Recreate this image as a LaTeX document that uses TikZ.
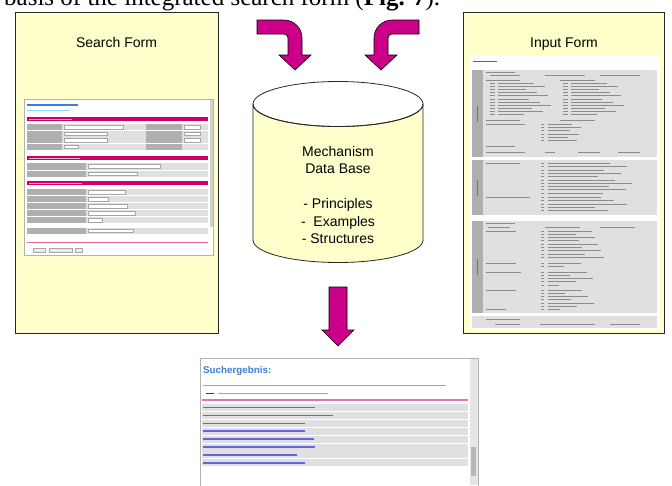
\documentclass[tikz,border=0pt]{standalone}
\usepackage{fontspec}
\setmainfont{Liberation Sans}
\newfontfamily\headfont{Liberation Serif}
\usetikzlibrary{arrows.meta, positioning, shapes}

\definecolor{formyellow}{HTML}{FFFFCC}
\definecolor{arrowpink}{HTML}{CC0088}
\definecolor{barpink}{HTML}{CC0066}
\definecolor{rowgray}{HTML}{E0E0E0}
\definecolor{labelgray}{HTML}{AFAFAF}
\definecolor{linkblue}{HTML}{3B7FD6}
\definecolor{listblue}{HTML}{6464E6}

\tikzset{
  formbox/.style={draw=black!85, line width=0.8pt, fill=formyellow},
  shot/.style={draw=black!30, line width=0.5pt, fill=white},
  blockarrow/.style={draw=black, line width=0.6pt, fill=arrowpink},
  textline/.style={black!45, line width=0.9pt},
  field/.style={draw=black!35, line width=0.3pt, fill=white},
}

\begin{document}
\begin{tikzpicture}[x=1pt, y=-1pt]
\useasboundingbox (0,0) rectangle (672,485);

% Header line of the page (cut at the top)
\node[anchor=base west, inner sep=0, font=\headfont\fontsize{25}{30}\selectfont] (head) at (4,5) {basis of the integrated search form (\textbf{Fig. 7}).};

% Search form
\draw[formbox] (15,12) rectangle (218,333);
\node[anchor=base, font=\fontsize{14}{17}\selectfont] (search) at (116.5,47.7) {Search Form};
\draw[shot] (24,99) rectangle (213,255);
\fill[black!18] (209.5,100) rectangle (212.5,227);
\draw[linkblue, line width=1.2pt] (27,105) -- (78,105);
\draw[cyan!45, line width=0.8pt] (27,110) -- (70,110);
% section 1
\fill[barpink] (27,117) rectangle (208,121);
\draw[white!70!barpink, line width=0.6pt] (29,119) -- (72,119);
\foreach \y/\f in {124/123, 130.5/107, 137/107, 143.5/78} {
  \fill[rowgray] (27,\y) rectangle (208,\y+6);
  \fill[labelgray] (27,\y) rectangle (62,\y+6);
  \fill[labelgray] (146,\y) rectangle (182,\y+6);
  \draw[field] (64,\y+1.3) rectangle (\f,\y+4.7);
}
\foreach \y in {124, 130.5, 137}
  \draw[field] (184,\y+1.3) rectangle (200,\y+4.7);
% section 2
\fill[barpink] (27,156) rectangle (208,160);
\draw[white!70!barpink, line width=0.6pt] (29,158) -- (80,158);
\foreach \y/\f in {163/160, 170.5/137} {
  \fill[rowgray] (27,\y) rectangle (208,\y+6.5);
  \fill[labelgray] (27,\y) rectangle (86,\y+6.5);
  \draw[field] (88,\y+1.5) rectangle (\f,\y+5);
}
% section 3
\fill[barpink] (27,181) rectangle (208,185);
\draw[white!70!barpink, line width=0.6pt] (29,183) -- (82,183);
\foreach \y/\f in {189/125, 196/108, 203/127, 210/135, 217/102} {
  \fill[rowgray] (27,\y) rectangle (208,\y+6.3);
  \fill[labelgray] (27,\y) rectangle (86,\y+6.3);
  \draw[field] (88,\y+1.5) rectangle (\f,\y+4.8);
}
\fill[rowgray] (27,228) rectangle (208,234);
\fill[labelgray] (27,228) rectangle (86,234);
\draw[field] (88,229.5) rectangle (133,232.5);
\draw[barpink!60, line width=0.8pt] (27,242) -- (208,242);
\foreach \xa/\xb in {33/45, 49/72, 75/82}
  \draw[field, fill=black!8] (\xa,248) rectangle (\xb,252.5);

% Input form
\draw[formbox] (463,12) rectangle (664,333);
\node[anchor=base, font=\fontsize{14}{17}\selectfont] (input) at (564,47.7) {Input Form};
\fill[white] (469,55) rectangle (660,330);
\draw[black!60, line width=1pt] (473,61) -- (497,61);
\foreach \ya/\yb in {70/157, 160/215, 221/313, 316/328}
  \fill[rowgray] (472,\ya) rectangle (657,\yb);
\foreach \ya/\yb in {70/157, 160/215, 221/313} {
  \fill[labelgray] (472,\ya) rectangle (483,\yb);
  \draw[black!55, line width=0.9pt] (477.5,{(\ya+\yb)/2-8}) -- ++(0,16);
}
% section 1 of the input form
\draw[textline] (486,72) -- (515,72);
\foreach \xa/\xb in {490/520, 545/585, 600/640}
  \draw[textline] (\xa,75.5) -- (\xb,75.5);
\draw[textline] (486,80) -- (520,80);
\draw[textline] (560,80) -- (595,80);
\foreach \y [count=\i] in {83.5,86.6,...,117} {
  \pgfmathsetmacro\len{25+mod(\i*11,30)}
  \draw[textline] (490,\y) -- (495,\y);
  \draw[textline] (498,\y) -- ++(\len,0);
  \draw[textline] (563,\y) -- (568,\y);
  \draw[textline] (571,\y) -- ++(\len,0);
}
\draw[textline] (486,120.5) -- (520,120.5);
\draw[textline] (560,120.5) -- (595,120.5);
\draw[textline] (486,124.5) -- (525,124.5);
\foreach \y [count=\i] in {124.5,127.7,...,143} {
  \pgfmathsetmacro\len{15+mod(\i*9,20)}
  \draw[textline] (541,\y) -- (544,\y);
  \draw[textline] (548,\y) -- ++(\len,0);
}
\draw[textline] (486,146.5) -- (515,146.5);
\draw[textline] (486,152) -- (525,152);
\foreach \xa/\xb in {545/555, 578/600, 618/640}
  \draw[textline] (\xa,152) -- (\xb,152);
% section 2 of the input form
\draw[textline] (486,163.5) -- (520,163.5);
\foreach \y [count=\i] in {163.5,166.8,...,194} {
  \pgfmathsetmacro\len{45+mod(\i*17,40)}
  \draw[textline] (541,\y) -- (544,\y);
  \draw[textline] (548,\y) -- ++(\len,0);
}
\draw[textline] (486,197.5) -- (530,197.5);
\foreach \y [count=\i] in {197.5,200.8,...,213} {
  \pgfmathsetmacro\len{40+mod(\i*13,45)}
  \draw[textline] (541,\y) -- (544,\y);
  \draw[textline] (548,\y) -- ++(\len,0);
}
% section 3 of the input form
\draw[textline] (486,223.5) -- (515,223.5);
\draw[textline] (488,227) -- (510,227);
\draw[textline] (545,227) -- (580,227);
\draw[textline] (600,227) -- (635,227);
\foreach \y [count=\i] in {231,234.3,...,260} {
  \pgfmathsetmacro\len{25+mod(\i*19,35)}
  \draw[textline] (541,\y) -- (544,\y);
  \draw[textline] (548,\y) -- ++(\len,0);
}
\foreach \ya/\ln in {231/30, 263/30, 272/35, 290/30, 309.5/20}
  \draw[textline] (486,\ya) -- ++(\ln,0);
\foreach \y [count=\i] in {263,266.3,272,275.3,278.6,281.9,285.2,290,293.3,296.6,299.9,303.2,306.5,309.8} {
  \pgfmathsetmacro\len{10+mod(\i*23,40)}
  \draw[textline] (541,\y) -- (544,\y);
  \draw[textline] (548,\y) -- ++(\len,0);
}
% section 4 of the input form
\draw[textline] (486,319) -- (520,319);
\foreach \xa/\xb in {495/520, 540/595, 610/640}
  \draw[textline] (\xa,324) -- (\xb,324);

% Data base
\draw[black!85, line width=0.8pt, fill=formyellow] (253,104) -- (253,240)
  arc[start angle=180, end angle=0, x radius=85, y radius=22.5] -- (423,104)
  arc[start angle=0, end angle=180, x radius=85, y radius=22.5] -- cycle;
\draw[black!85, line width=0.8pt] (338,104) ellipse [x radius=85, y radius=22.5];
\node[align=center, inner sep=0, font=\fontsize{14}{17.5}\selectfont] (db) at (338,195)
  {Mechanism\\Data Base\\[17.5pt]- Principles\\-\ \ Examples\\- Structures};

% Arrows into the data base
\draw[blockarrow] (257,20) -- (284,20) arc[start angle=-90, end angle=0, radius=18]
  -- (302,55) -- (311,55) -- (295,70) -- (279,55) -- (288,55) -- (288,38)
  arc[start angle=0, end angle=-90, radius=4] -- (257,34) -- cycle;
\draw[blockarrow] (419,20) -- (392,20) arc[start angle=270, end angle=180, radius=18]
  -- (374,55) -- (365,55) -- (381,70) -- (397,55) -- (388,55) -- (388,38)
  arc[start angle=180, end angle=270, radius=4] -- (419,34) -- cycle;

% Arrow to the result
\draw[blockarrow] (329,287) -- (347,287) -- (347,330) -- (354,330) -- (338,346)
  -- (322,330) -- (329,330) -- cycle;

% Result list
\draw[shot] (200,358) rectangle (478,490);
\fill[black!10] (469.5,358.5) rectangle (477.5,485);
\fill[black!28] (471,447) rectangle (476,476);
\node[anchor=base west, inner sep=0, text=linkblue, font=\bfseries\fontsize{9.8}{12}\selectfont] (result) at (203,373) {Suchergebnis:};
\draw[black!35, line width=0.6pt] (203,385.5) -- (446,385.5);
\draw[black!75, line width=0.9pt] (206,393) -- (214,393);
\draw[black!35, line width=0.6pt] (218,393) -- (328,393);
\draw[barpink!55, line width=2pt] (202,399.5) -- (468,399.5);
\foreach \r in {0,...,7}
  \fill[rowgray] (202,{404+7.9*\r}) rectangle (468,{411+7.9*\r});
\foreach \r/\e in {0/315, 1/333, 2/305, 3/305, 4/314, 5/315, 6/297, 7/305}
  \draw[listblue, line width=1.5pt] (203,{407.5+7.9*\r}) -- (\e,{407.5+7.9*\r});
\end{tikzpicture}
\end{document}
